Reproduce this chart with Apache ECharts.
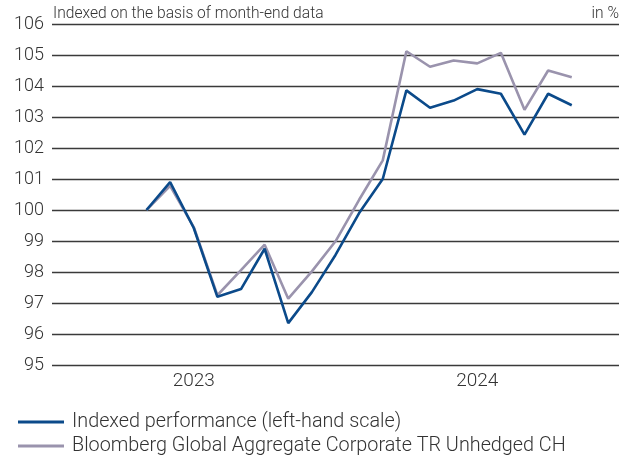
<!DOCTYPE html>
<html>
<head>
<meta charset="utf-8">
<script src="https://cdn.jsdelivr.net/npm/echarts@6/dist/echarts.min.js"></script>
<style>
html,body{margin:0;padding:0;background:#fff;}
#chart{width:629px;height:456px;}
</style>
</head>
<body>
<div id="chart"></div>
<script>
// Month-end categories, Dec 2022 .. Dec 2024
const categories = [
  "2022-12","2023-01","2023-02","2023-03","2023-04","2023-05","2023-06","2023-07","2023-08","2023-09","2023-10","2023-11","2023-12",
  "2024-01","2024-02","2024-03","2024-04","2024-05","2024-06","2024-07","2024-08","2024-09","2024-10","2024-11","2024-12"
];
const yearLabels = { "2023-06": "2023", "2024-06": "2024" };
const indexedPerformance = [
  null,null,null,null,
  100.0,100.9,99.42,97.2,97.45,98.75,96.35,97.35,98.55,99.9,101.0,103.86,103.3,103.53,103.9,103.75,102.43,103.75,103.38,
  null,null
];
const bloombergIndex = [
  null,null,null,null,
  100.0,100.78,99.45,97.25,98.06,98.88,97.14,98.02,98.99,100.33,101.6,105.12,104.62,104.82,104.73,105.07,103.23,104.5,104.28,
  null,null
];
const yTicks = { min: 95, max: 106, interval: 1 };
const seriesNames = ["Indexed performance (left-hand scale)", "Bloomberg Global Aggregate Corporate TR Unhedged CH"];

const FONT = "Roboto";
const legendText = { fontFamily: FONT, fontWeight: 300, fontSize: 19.8, color: '#333', padding: [0, 0, 0, 3] };
const chart = echarts.init(document.getElementById('chart'), null, { renderer: 'canvas' });
chart.setOption({
  animation: false,
  backgroundColor: '#ffffff',
  grid: { left: 52, right: 10, top: 24, bottom: 91, containLabel: false },
  graphic: [
    { type: 'text', left: 53, top: 6, style: { text: 'Indexed on the basis of month-end data', fontFamily: FONT, fontWeight: 300, fontSize: 15.6, fill: '#333' } },
    { type: 'text', right: 10, top: 6, style: { text: 'in %', fontFamily: FONT, fontWeight: 300, fontSize: 15.6, fill: '#333' } }
  ],
  legend: [
    { left: 13, top: 407, data: [seriesNames[0]], icon: 'rect', itemWidth: 46, itemHeight: 3, itemGap: 8, textStyle: legendText },
    { left: 13, top: 431, data: [seriesNames[1]], icon: 'rect', itemWidth: 46, itemHeight: 3, itemGap: 8, textStyle: legendText }
  ],
  xAxis: {
    type: 'category', data: categories, boundaryGap: false,
    axisLine: { show: false }, axisTick: { show: false },
    axisLabel: {
      interval: (idx, val) => yearLabels[val] !== undefined,
      formatter: (val) => yearLabels[val] || '',
      fontFamily: FONT, fontWeight: 300, fontSize: 19, color: '#333', margin: 7
    },
    splitLine: { show: false }
  },
  yAxis: {
    type: 'value', min: yTicks.min, max: yTicks.max, interval: yTicks.interval,
    axisLine: { show: false }, axisTick: { show: false },
    axisLabel: { fontFamily: FONT, fontWeight: 300, fontSize: 18, color: '#333', margin: 8 },
    splitLine: { lineStyle: { color: '#3a3a3a', width: 1.3 } }
  },
  series: [
    { name: seriesNames[1], type: 'line', data: bloombergIndex, symbol: 'none', connectNulls: false,
      lineStyle: { color: '#9a93ad', width: 2.6 }, itemStyle: { color: '#9a93ad' } },
    { name: seriesNames[0], type: 'line', data: indexedPerformance, symbol: 'none', connectNulls: false,
      lineStyle: { color: '#0b4a8a', width: 2.6 }, itemStyle: { color: '#0b4a8a' } }
  ]
});
</script>
</body>
</html>
